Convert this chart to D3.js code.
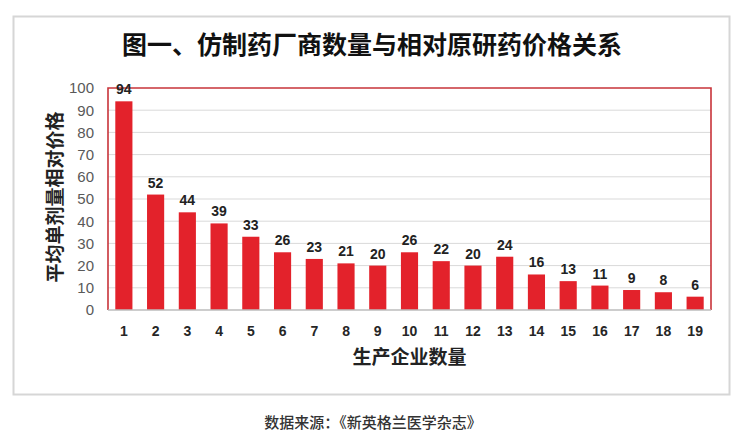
<!DOCTYPE html>
<html><head><meta charset="utf-8">
<script src="https://cdn.jsdelivr.net/npm/d3@7"></script>
<style>body{margin:0;background:#fff;}svg{display:block;}</style>
</head><body>
<svg id="c" width="750" height="446"></svg>
<script>
const categories = ["1","2","3","4","5","6","7","8","9","10","11","12","13","14","15","16","17","18","19"];
const values = [94,52,44,39,33,26,23,21,20,26,22,20,24,16,13,11,9,8,6];
const yTicks = [0,10,20,30,40,50,60,70,80,90,100];
const title = "图一、仿制药厂商数量与相对原研药价格关系";
const yTitle = "平均单剂量相对价格";
const xTitle = "生产企业数量";
const source = "数据来源：《新英格兰医学杂志》";

const svg = d3.select("#c");
const cjk = "'Noto Sans CJK SC','Noto Sans',sans-serif";
const m = {l:108, r:711, t:88, b:310};

// outer frame
svg.append("rect").attr("x",13.5).attr("y",16.5).attr("width",716).attr("height",378)
  .attr("fill","#fff").attr("stroke","#d6d6d6").attr("stroke-width",2);

const x = d3.scaleBand().domain(categories).range([m.l,m.r]).paddingInner(0.46).paddingOuter(0.23);
const y = d3.scaleLinear().domain([0,100]).range([m.b,m.t]);

// grid
svg.append("g").selectAll("line").data(yTicks.filter(d=>d>0&&d<100)).join("line")
  .attr("x1",m.l).attr("x2",m.r).attr("y1",d=>y(d)).attr("y2",d=>y(d))
  .attr("stroke","#d9d9d9").attr("stroke-width",1);

// y axis labels
const ya = svg.append("g").attr("transform",`translate(${m.l},0)`)
  .call(d3.axisLeft(y).tickValues(yTicks).tickSize(0).tickPadding(14));
ya.select(".domain").remove();
ya.selectAll("text").attr("fill","#595959").style("font-family","'Liberation Sans',Arial,sans-serif").style("font-size","15px");

// bars
svg.append("g").selectAll("rect").data(values).join("rect")
  .attr("x",(d,i)=>x(categories[i])).attr("width",x.bandwidth())
  .attr("y",d=>y(d)).attr("height",d=>y(0)-y(d)).attr("fill","#e3222b");

// plot frame (red sides), gray bottom
svg.append("path").attr("d",`M${m.l},${m.b}V${m.t}H${m.r}V${m.b}`)
  .attr("fill","none").attr("stroke","#c8343a").attr("stroke-width",1.6);
svg.append("line").attr("x1",m.l).attr("x2",m.r).attr("y1",m.b).attr("y2",m.b)
  .attr("stroke","#bdbdbd").attr("stroke-width",1.5);

// data labels
svg.append("g").selectAll("text").data(values).join("text")
  .attr("x",(d,i)=>x(categories[i])+x.bandwidth()/2).attr("y",d=>y(d)-7)
  .attr("text-anchor","middle").attr("fill","#222")
  .style("font-family","'Liberation Sans',Arial,sans-serif").style("font-weight","bold").style("font-size","14px")
  .text(d=>d);

// x axis labels
const xa = svg.append("g").attr("transform",`translate(0,${m.b})`)
  .call(d3.axisBottom(x).tickSize(0).tickPadding(16));
xa.select(".domain").remove();
xa.selectAll("text").attr("fill","#262626").style("font-family","'Liberation Sans',Arial,sans-serif").style("font-weight","bold").style("font-size","14px");

// titles
svg.append("text").attr("x",372).attr("y",54).attr("text-anchor","middle")
  .style("font-family",cjk).style("font-weight","bold").style("font-size","25px").attr("fill","#111").text(title);
svg.append("text").attr("transform",`translate(62,197) rotate(-90)`).attr("text-anchor","middle")
  .style("font-family",cjk).style("font-weight","bold").style("font-size","19px").attr("fill","#222").text(yTitle);
svg.append("text").attr("x",(m.l+m.r)/2).attr("y",364).attr("text-anchor","middle")
  .style("font-family",cjk).style("font-weight","bold").style("font-size","19px").attr("fill","#222").text(xTitle);
svg.append("text").attr("x",373).attr("y",428).attr("text-anchor","middle")
  .style("font-family",cjk).style("font-weight","500").style("font-size","15px").attr("fill","#333").text(source);
</script>
</body></html>
